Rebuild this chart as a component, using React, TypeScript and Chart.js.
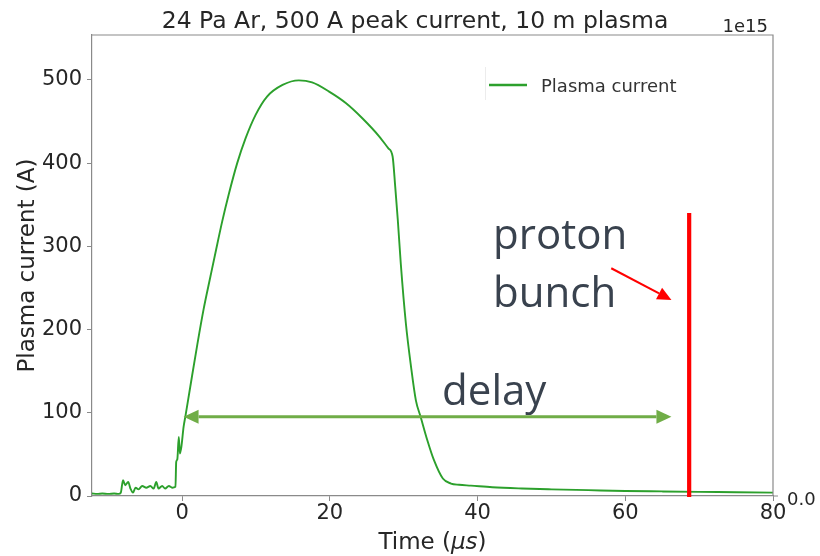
import React, { useEffect, useRef } from 'react';
import { Chart, registerables } from 'chart.js';

Chart.register(...registerables);

// ---- data ----
const timeUs = [
  -12.2, -11.5, -10.8, -10, -9.2, -8.6, -8.3, -8.0, -7.7, -7.3, -7.0, -6.65, -6.3, -5.9, -5.4, -4.85,
  -4.3, -3.85, -3.5, -3.2, -2.7, -2.3, -1.8, -1.35, -0.9, -0.8, -0.65, -0.45, -0.3, -0.1, 0.2, 0.45,
  1.1, 2.0, 2.9, 3.84, 4.6, 5.43, 6.3, 7.46, 8.6, 9.95, 11.5, 13.6, 15.8, 17.6, 19.9, 22.2, 24.4,
  26.7, 27.9, 28.5, 28.85, 29.2, 29.6, 30.3, 31.0, 31.65, 32.3, 33.2, 34.1, 35.3, 36.4, 37.5, 39.1,
  42, 46, 50, 55, 60, 65, 70, 75, 80,
];
const currentA = [
  3, 2.5, 3, 2.5, 3, 2.5, 4, 19, 13, 17, 9, 4, 10, 8, 12, 10,
  12, 9, 17, 9, 12, 9, 12, 10, 11, 41, 44, 71, 51, 59, 83, 96,
  131, 179, 224, 264, 296, 330, 362, 400, 430, 458, 480, 494, 499.5, 497, 486, 472, 454,
  432, 418, 408, 372, 332, 280, 207, 155, 115, 95, 67, 43, 21, 15, 13.5, 12.5,
  10.5, 9, 8, 7, 6, 5.5, 5, 4.5, 4,
];
const xTicks = [0, 20, 40, 60, 80];
const yTicks = [0, 100, 200, 300, 400, 500];
const xRange = [-12.2, 80];
const yRange = [0, 554];

const seriesLabel = 'Plasma current';
const titleText = '24 Pa Ar, 500 A peak current, 10 m plasma';
const yTitle = 'Plasma current (A)';
const offsetText = '1e15';
const rightTickLabel = '0.0';

// annotations (data coordinates)
const delayArrow = [0.2, 66.25];
const delayLevel = 95.3;
const delayLabel = 'delay';
const delayLabelAt = [35.2, 109.4];
const protonBunchTime = 68.65;
const protonBunchTop = 340;
const protonLabel = ['proton', 'bunch'];
const protonLabelAt = [42.1, 296.5, 227.5];
const redArrowFrom = [58.1, 273.7];
const redArrowTo = [66.25, 235.6];

const SPINE = '#8a8a8a';
const TEXT = '#262626';
const GREEN = '#2ca02c';
const ANNOT_TEXT = '#39424e';

function arrowHead(ctx: CanvasRenderingContext2D, tx: number, ty: number, fx: number, fy: number, len: number, half: number) {
  const ang = Math.atan2(ty - fy, tx - fx);
  const bx = tx - len * Math.cos(ang);
  const by = ty - len * Math.sin(ang);
  ctx.beginPath();
  ctx.moveTo(tx, ty);
  ctx.lineTo(bx + half * Math.sin(ang), by - half * Math.cos(ang));
  ctx.lineTo(bx - half * Math.sin(ang), by + half * Math.cos(ang));
  ctx.closePath();
  ctx.fill();
  return [bx, by];
}

const overlay = {
  id: 'overlay',
  afterDatasetsDraw(chart: any) {
    const { ctx, scales } = chart;
    const px = (v: number) => scales.x.getPixelForValue(v);
    const py = (v: number) => scales.y.getPixelForValue(v);
    ctx.save();
    // proton bunch line
    ctx.strokeStyle = '#ff0000';
    ctx.lineWidth = 4.2;
    ctx.beginPath();
    ctx.moveTo(px(protonBunchTime), py(0) + 1);
    ctx.lineTo(px(protonBunchTime), py(protonBunchTop));
    ctx.stroke();

    // delay double arrow
    const ax0 = px(delayArrow[0]);
    const ax1 = px(delayArrow[1]);
    const ay = py(delayLevel);
    ctx.fillStyle = '#70ad47';
    ctx.strokeStyle = '#70ad47';
    ctx.lineWidth = 3;
    const [lb] = arrowHead(ctx, ax0, ay, ax1, ay, 15, 7);
    const [rb] = arrowHead(ctx, ax1, ay, ax0, ay, 15, 7);
    ctx.beginPath();
    ctx.moveTo(lb, ay);
    ctx.lineTo(rb, ay);
    ctx.stroke();

    // red pointer arrow
    const fx = px(redArrowFrom[0]), fy = py(redArrowFrom[1]);
    const tx = px(redArrowTo[0]), ty = py(redArrowTo[1]);
    ctx.fillStyle = '#ff0000';
    ctx.strokeStyle = '#ff0000';
    ctx.lineWidth = 2;
    const [hb, hby] = arrowHead(ctx, tx, ty, fx, fy, 14, 6.5);
    ctx.beginPath();
    ctx.moveTo(fx, fy);
    ctx.lineTo(hb, hby);
    ctx.stroke();

    // annotation text
    ctx.fillStyle = ANNOT_TEXT;
    ctx.font = '42px "Open Sans"';
    ctx.textAlign = 'left';
    ctx.textBaseline = 'alphabetic';
    ctx.fillText(protonLabel[0], px(protonLabelAt[0]), py(protonLabelAt[1]));
    ctx.fillText(protonLabel[1], px(protonLabelAt[0]), py(protonLabelAt[2]));
    ctx.fillText(delayLabel, px(delayLabelAt[0]), py(delayLabelAt[1]));
    ctx.restore();
  },
  afterDraw(chart: any) {
    const { ctx, chartArea: a } = chart;
    ctx.save();
    // top & right spines
    ctx.strokeStyle = SPINE;
    ctx.lineWidth = 1.2;
    ctx.beginPath();
    ctx.moveTo(a.left, a.top);
    ctx.lineTo(a.right, a.top);
    ctx.lineTo(a.right, a.bottom);
    ctx.stroke();
    // right axis tick
    ctx.lineWidth = 1;
    ctx.beginPath();
    ctx.moveTo(a.right, a.bottom);
    ctx.lineTo(a.right + 5, a.bottom);
    ctx.stroke();

    // title
    ctx.fillStyle = TEXT;
    ctx.textBaseline = 'alphabetic';
    ctx.textAlign = 'center';
    ctx.font = '23.5px "DejaVu Sans"';
    ctx.fillText(titleText, 415, 28);

    // y title
    ctx.save();
    ctx.translate(33.5, (a.top + a.bottom) / 2);
    ctx.rotate(-Math.PI / 2);
    ctx.font = '23px "DejaVu Sans"';
    ctx.fillText(yTitle, 0, 0);
    ctx.restore();

    // x title with italic unit
    const p1 = 'Time (', p2 = '\u03bcs', p3 = ')';
    const fN = '23px "DejaVu Sans"', fI = 'italic 23px "DejaVu Sans"';
    ctx.font = fN; const w1 = ctx.measureText(p1).width; const w3 = ctx.measureText(p3).width;
    ctx.font = fI; const w2 = ctx.measureText(p2).width;
    let sx = (a.left + a.right) / 2 - (w1 + w2 + w3) / 2;
    ctx.textAlign = 'left';
    ctx.font = fN; ctx.fillText(p1, sx, 549); sx += w1;
    ctx.font = fI; ctx.fillText(p2, sx, 549); sx += w2;
    ctx.font = fN; ctx.fillText(p3, sx, 549);

    // offset text & right tick label
    ctx.font = '18px "DejaVu Sans"';
    ctx.textAlign = 'right';
    ctx.fillText(offsetText, 768, 32);
    ctx.textAlign = 'left';
    ctx.fillText(rightTickLabel, 787, 505);

    // legend
    const lx = a.left + 397, ly = a.top + 50;
    ctx.strokeStyle = '#ececec';
    ctx.lineWidth = 1;
    ctx.beginPath();
    ctx.moveTo(lx - 3.5, ly - 18);
    ctx.lineTo(lx - 3.5, ly + 15);
    ctx.stroke();
    ctx.strokeStyle = GREEN;
    ctx.lineWidth = 2.6;
    ctx.beginPath();
    ctx.moveTo(lx, ly);
    ctx.lineTo(lx + 38, ly);
    ctx.stroke();
    ctx.fillStyle = '#333333';
    ctx.font = '18px "DejaVu Sans"';
    ctx.fillText(seriesLabel, lx + 52, ly + 6.5);
    ctx.restore();
  },
};

export default function App() {
  const ref = useRef<HTMLCanvasElement | null>(null);
  useEffect(() => {
    if (!ref.current) return;
    const chart = new Chart(ref.current, {
      type: 'line',
      data: {
        datasets: [
          {
            label: seriesLabel,
            data: timeUs.map((t, i) => ({ x: t, y: currentA[i] })),
            borderColor: GREEN,
            borderWidth: 1.9,
            pointRadius: 0,
            cubicInterpolationMode: 'monotone',
            fill: false,
          },
        ],
      },
      options: {
        responsive: false,
        animation: false,
        devicePixelRatio: 1,
        layout: { padding: { left: 0, right: 47, top: 35, bottom: 0 } },
        plugins: { legend: { display: false }, tooltip: { enabled: false }, title: { display: false } },
        scales: {
          x: {
            type: 'linear',
            min: xRange[0],
            max: xRange[1],
            afterFit: (s: any) => { s.height = 60; },
            afterBuildTicks: (s: any) => { s.ticks = xTicks.map((v) => ({ value: v })); },
            grid: { drawOnChartArea: false, drawTicks: true, tickLength: 5, color: SPINE, lineWidth: 1 },
            border: { color: SPINE, width: 1.2 },
            ticks: {
              font: { family: 'DejaVu Sans', size: 21 },
              color: TEXT,
              padding: 0,
              maxRotation: 0,
              autoSkip: false,
              callback: (v: any) => String(v),
            },
          },
          y: {
            type: 'linear',
            min: yRange[0],
            max: yRange[1],
            afterFit: (s: any) => { s.width = 92; },
            afterBuildTicks: (s: any) => { s.ticks = yTicks.map((v) => ({ value: v })); },
            grid: { drawOnChartArea: false, drawTicks: true, tickLength: 5, color: SPINE, lineWidth: 1 },
            border: { color: SPINE, width: 1.2 },
            ticks: {
              font: { family: 'DejaVu Sans', size: 21 },
              color: TEXT,
              padding: 5,
              autoSkip: false,
              callback: (v: any) => String(v),
            },
          },
        },
      },
      plugins: [overlay],
    } as any);
    return () => chart.destroy();
  }, []);
  return (
    <div style={{ position: 'absolute', left: 0, top: 0, width: 820, height: 556, background: '#fff' }}>
      <canvas ref={ref} width={820} height={556} style={{ display: 'block' }} />
    </div>
  );
}
